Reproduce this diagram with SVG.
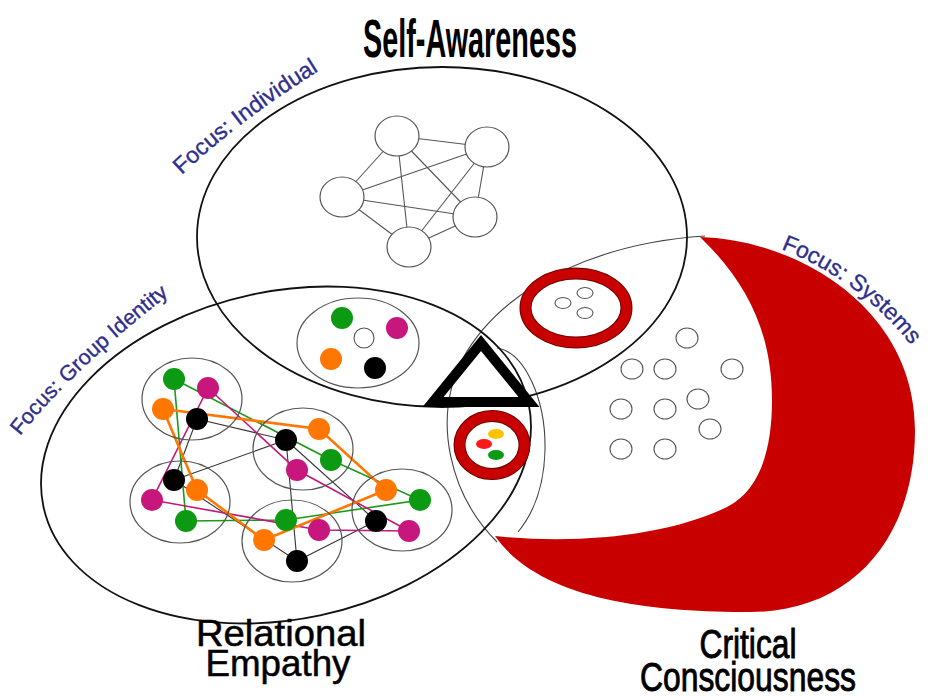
<svg xmlns="http://www.w3.org/2000/svg" width="928" height="696" viewBox="0 0 928 696">
<style>
.big{fill:none;stroke:#111;stroke-width:1.8}
.thin{fill:none;stroke:#444;stroke-width:1.1}
.node{fill:#fff;stroke:#555;stroke-width:1.2}
.edge{stroke:#555;stroke-width:1.1;fill:none}
.clu{fill:none;stroke:#555;stroke-width:1.2}
.g{fill:#0b9a12}.m{fill:#c8177c}.o{fill:#ff7700}.k{fill:#000}
.lg{stroke:#199a1c;stroke-width:1.6;fill:none}
.lm{stroke:#c2187a;stroke-width:1.6;fill:none}
.lo{stroke:#ff7700;stroke-width:2.6;fill:none}
.lk{stroke:#333;stroke-width:1.1;fill:none}
.ring{fill:none;stroke:#c80000;stroke-width:10}
.ringe{fill:none;stroke:#6a0000;stroke-width:12}
.sm{fill:#fff;stroke:#555;stroke-width:1.1}
.focus{font-family:"Liberation Sans",Arial,sans-serif;fill:#2e2e8e;stroke:#2e2e8e;stroke-width:0.35}
.title{font-family:"Liberation Sans",Arial,sans-serif;fill:#000;stroke:#000}
</style>
<defs>
<path id="pInd" d="M182,175 Q246,114 340,58"/>
<path id="pGrp" d="M20,436 Q80,362 178,288"/>
<path id="pSys" d="M781,249 Q872,285 926,366"/>
</defs>
<rect width="928" height="696" fill="#fff"/>

<g id="critical-consciousness">
<path d="M495,536 C580,545 670,535 727,507 C760,490 772,450 772,400 C772,330 745,280 700,237 C800,240 915,310 915,430 C915,540 850,612 750,612 C650,612 540,600 495,536 Z" fill="#c80000"/>
<path class="thin" d="M497,542 C450,495 432,420 462,360 C505,280 610,242 705,236"/>
<path class="thin" d="M497,348 C525,352 546,400 545,450 C544,490 532,515 518,532"/>
</g>

<g id="self-awareness">
<ellipse class="big" cx="442" cy="237" rx="245" ry="170"/>
</g>
<g id="relational-empathy">
<ellipse class="big" cx="286" cy="455" rx="248" ry="164" transform="rotate(-12 286 455)"/>
</g>

<g id="connectors">
<g id="individual-edges" class="edge">
<line x1="397" y1="136" x2="487" y2="147"/>
<line x1="397" y1="136" x2="342" y2="197"/>
<line x1="397" y1="136" x2="475" y2="217"/>
<line x1="397" y1="136" x2="409" y2="247"/>
<line x1="487" y1="147" x2="342" y2="197"/>
<line x1="487" y1="147" x2="475" y2="217"/>
<line x1="487" y1="147" x2="409" y2="247"/>
<line x1="342" y1="197" x2="475" y2="217"/>
<line x1="342" y1="197" x2="409" y2="247"/>
<line x1="475" y1="217" x2="409" y2="247"/>
</g>
<g id="group-edges-black" class="lk">
<line x1="197" y1="419" x2="286" y2="440"/>
<line x1="197" y1="419" x2="174" y2="480"/>
<line x1="174" y1="480" x2="286" y2="440"/>
<line x1="286" y1="440" x2="297" y2="561"/>
<line x1="286" y1="440" x2="376" y2="521"/>
<line x1="376" y1="521" x2="297" y2="561"/>
<line x1="174" y1="480" x2="297" y2="561"/>
</g>
<polygon id="group-edges-green" class="lg" points="174,379 331,460 420,500 286,520 186,521"/>
<polygon id="group-edges-magenta" class="lm" points="208,388 297,470 409,531 319,530 152,500"/>
<polygon id="group-edges-orange" class="lo" points="163,409 319,429 386,490 264,540 197,490"/>
</g>

<g id="individual-nodes">
<ellipse class="node" cx="397" cy="136" rx="22" ry="20"/>
<ellipse class="node" cx="487" cy="147" rx="22" ry="20"/>
<ellipse class="node" cx="342" cy="197" rx="22" ry="20"/>
<ellipse class="node" cx="475" cy="217" rx="22" ry="20"/>
<ellipse class="node" cx="409" cy="247" rx="22" ry="20"/>
</g>

<g id="group-cluster">
<ellipse class="clu" cx="358" cy="343" rx="61" ry="45"/>
<circle class="g" cx="342" cy="318" r="11"/>
<circle class="m" cx="397" cy="328" r="11"/>
<circle class="sm" cx="364" cy="338" r="10"/>
<circle class="o" cx="331" cy="359" r="11"/>
<circle class="k" cx="375" cy="368" r="11"/>
</g>

<g id="cluster-1">
<ellipse class="clu" cx="192" cy="399" rx="50" ry="41"/>
<circle class="g" cx="174" cy="379" r="11"/><circle class="m" cx="208" cy="388" r="11"/>
<circle class="o" cx="163" cy="409" r="11"/><circle class="k" cx="197" cy="419" r="11"/>
</g>
<g id="cluster-2">
<ellipse class="clu" cx="303" cy="449" rx="50" ry="41"/>
<circle class="o" cx="319" cy="429" r="11"/><circle class="k" cx="286" cy="440" r="11"/>
<circle class="g" cx="331" cy="460" r="11"/><circle class="m" cx="297" cy="470" r="11"/>
</g>
<g id="cluster-3">
<ellipse class="clu" cx="180" cy="502" rx="50" ry="41"/>
<circle class="k" cx="174" cy="480" r="11"/><circle class="o" cx="197" cy="490" r="11"/>
<circle class="m" cx="152" cy="500" r="11"/><circle class="g" cx="186" cy="521" r="11"/>
</g>
<g id="cluster-4">
<ellipse class="clu" cx="292" cy="541" rx="50" ry="41"/>
<circle class="g" cx="286" cy="520" r="11"/><circle class="m" cx="319" cy="530" r="11"/>
<circle class="o" cx="264" cy="540" r="11"/><circle class="k" cx="297" cy="561" r="11"/>
</g>
<g id="cluster-5">
<ellipse class="clu" cx="402" cy="510" rx="50" ry="41"/>
<circle class="o" cx="386" cy="490" r="11"/><circle class="g" cx="420" cy="500" r="11"/>
<circle class="k" cx="376" cy="521" r="11"/><circle class="m" cx="409" cy="531" r="11"/>
</g>

<g id="ring-top">
<ellipse class="ringe" cx="576" cy="308" rx="50.5" ry="34.5"/>
<ellipse class="ring" cx="576" cy="308" rx="50.5" ry="34.5"/>
<ellipse class="sm" cx="563" cy="303" rx="8" ry="5.5"/>
<ellipse class="sm" cx="585" cy="293" rx="8" ry="5.5"/>
<ellipse class="sm" cx="585" cy="313" rx="8" ry="5.5"/>
</g>
<g id="ring-bottom">
<ellipse class="ringe" cx="492" cy="445" rx="32.5" ry="29"/>
<ellipse class="ring" cx="492" cy="445" rx="32.5" ry="29"/>
<ellipse cx="496" cy="434" rx="8" ry="5" fill="#ffc400"/>
<ellipse cx="484" cy="444" rx="8" ry="5" fill="#ff1a1a"/>
<ellipse cx="496" cy="455" rx="8" ry="5" fill="#0b9a12"/>
</g>

<g id="systems-nodes">
<ellipse class="sm" cx="687" cy="338" rx="11" ry="10"/>
<ellipse class="sm" cx="632" cy="369" rx="11" ry="10"/>
<ellipse class="sm" cx="665" cy="369" rx="11" ry="10"/>
<ellipse class="sm" cx="732" cy="369" rx="11" ry="10"/>
<ellipse class="sm" cx="621" cy="409" rx="11" ry="10"/>
<ellipse class="sm" cx="665" cy="409" rx="11" ry="10"/>
<ellipse class="sm" cx="698" cy="399" rx="11" ry="10"/>
<ellipse class="sm" cx="710" cy="429" rx="11" ry="10"/>
<ellipse class="sm" cx="621" cy="449" rx="11" ry="10"/>
<ellipse class="sm" cx="665" cy="449" rx="11" ry="10"/>
</g>

<g id="triangle">
<polygon points="481,343 433,402 529,402" fill="none" stroke="#000" stroke-width="10" stroke-linejoin="miter" stroke-miterlimit="10"/>
</g>

<g id="labels">
<text class="title" x="470" y="57" font-size="54" font-weight="bold" stroke-width="0" text-anchor="middle" textLength="214" lengthAdjust="spacingAndGlyphs">Self-Awareness</text>
<text class="title" x="281" y="646" font-size="36" stroke-width="0.5" text-anchor="middle" textLength="170" lengthAdjust="spacingAndGlyphs">Relational</text>
<text class="title" x="278" y="676" font-size="36" stroke-width="0.5" text-anchor="middle" textLength="145" lengthAdjust="spacingAndGlyphs">Empathy</text>
<text class="title" x="748" y="658" font-size="40" stroke-width="0.9" text-anchor="middle" textLength="97" lengthAdjust="spacingAndGlyphs">Critical</text>
<text class="title" x="748" y="691" font-size="40" stroke-width="0.9" text-anchor="middle" textLength="216" lengthAdjust="spacingAndGlyphs">Consciousness</text>
<text class="focus" font-size="23"><textPath href="#pInd">Focus: Individual</textPath></text>
<text class="focus" font-size="21.5"><textPath href="#pGrp">Focus: Group Identity</textPath></text>
<text class="focus" font-size="23"><textPath href="#pSys">Focus: Systems</textPath></text>
</g>
</svg>
